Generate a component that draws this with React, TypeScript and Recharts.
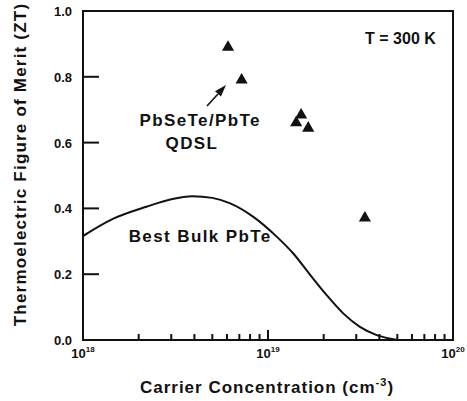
import React from 'react';
import {
  ComposedChart,
  Line,
  Scatter,
  XAxis,
  YAxis,
  ReferenceArea,
  ReferenceDot,
  ReferenceLine,
} from 'recharts';

const FONT = '"Liberation Sans", Arial, Helvetica, sans-serif';
const INK = '#111';

// Best bulk PbTe curve: carrier concentration (cm^-3) vs ZT
const bulkN = [1e18, 1.45e18, 2.2e18, 3.0e18, 3.9e18, 5.0e18, 6.2e18, 8.3e18, 1.11e19, 1.37e19, 1.69e19, 2.07e19, 2.55e19, 3.14e19, 3.87e19, 4.6e19, 5.0e19];
const bulkZT = [0.316, 0.368, 0.405, 0.428, 0.437, 0.432, 0.416, 0.375, 0.315, 0.263, 0.198, 0.137, 0.081, 0.04, 0.015, 0.004, 0.0];

// PbSeTe/PbTe QDSL samples
const qdslN = [6.08e18, 7.2e18, 1.42e19, 1.51e19, 1.65e19, 3.34e19];
const qdslZT = [0.89, 0.79, 0.66, 0.684, 0.644, 0.371];

const decades = [1e18, 1e19, 1e20];
const decadeExps = ['18', '19', '20'];
const minorTicks = [2e18, 3e18, 4e18, 5e18, 6e18, 7e18, 8e18, 9e18, 2e19, 3e19, 4e19, 5e19, 6e19, 7e19, 8e19, 9e19];
const yTicks = [0, 0.2, 0.4, 0.6, 0.8, 1.0];
const yInnerTicks = [0.2, 0.4, 0.6, 0.8];

const bulk = bulkN.map((n, i) => ({ n, zt: bulkZT[i] }));
const qdsl = qdslN.map((n, i) => ({ n, zt: qdslZT[i] }));

const notes = [
  { text: 'PbSeTe/PbTe', n: 4.3e18, zt: 0.668 },
  { text: 'QDSL', n: 3.88e18, zt: 0.598 },
  { text: 'Best Bulk PbTe', n: 4.3e18, zt: 0.316 },
];

const frame = { stroke: INK, strokeWidth: 2 };

const XTick = (props: any) => {
  const { x, y, payload } = props;
  const idx = decades.indexOf(payload.value);
  if (idx < 0) return <g />;
  return (
    <text x={x} y={y + 18} textAnchor="middle" fontFamily={FONT} fontSize={13} fontWeight="bold" fill={INK}>
      10
      <tspan dy={-6} fontSize={8}>{decadeExps[idx]}</tspan>
    </text>
  );
};

const YTick = (props: any) => {
  const { x, y, payload } = props;
  return (
    <text x={x - 11} y={y + 5} textAnchor="end" fontFamily={FONT} fontSize={13} fontWeight="bold" fill={INK}>
      {payload.value.toFixed(1)}
    </text>
  );
};

// inward tick marks, drawn from the axis end of each reference line
const MinorTick = (p: any) => {
  const base = Math.max(p.y1, p.y2);
  return <line x1={p.x1} x2={p.x1} y1={base} y2={base - 6} stroke={INK} strokeWidth={2} />;
};
const MajorTick = (p: any) => {
  const base = Math.max(p.y1, p.y2);
  return <line x1={p.x1} x2={p.x1} y1={base} y2={base - 10} stroke={INK} strokeWidth={2} />;
};
const LeftTick = (p: any) => {
  const base = Math.min(p.x1, p.x2);
  return <line x1={base} x2={base + 16} y1={p.y1} y2={p.y1} stroke={INK} strokeWidth={2} />;
};

const Arrow = (props: any) => {
  const { x1, y1, x2, y2 } = props;
  const dx = x2 - x1;
  const dy = y2 - y1;
  const len = Math.sqrt(dx * dx + dy * dy) || 1;
  const ux = dx / len;
  const uy = dy / len;
  const bx = x2 - ux * 12;
  const by = y2 - uy * 12;
  const w = 4;
  return (
    <g>
      <line x1={x1} y1={y1} x2={bx} y2={by} stroke={INK} strokeWidth={1.6} />
      <polygon
        points={`${x2},${y2} ${bx - uy * w},${by + ux * w} ${bx + uy * w},${by - ux * w}`}
        fill={INK}
      />
    </g>
  );
};

export default function App() {
  return (
    <div style={{ position: 'absolute', left: 0, top: 0 }}>
      <ComposedChart width={467} height={401} margin={{ top: 11, right: 14, bottom: 0, left: 0 }}>
        <XAxis
          dataKey="n"
          type="number"
          scale="log"
          domain={[1e18, 1e20]}
          allowDataOverflow
          ticks={decades}
          interval={0}
          tick={<XTick />}
          tickLine={false}
          tickSize={0}
          tickMargin={0}
          axisLine={frame}
          height={61}
          label={{
            content: (p: any) => {
              const vb = p.viewBox;
              return (
                <text x={vb.x + vb.width / 2 - 1} y={vb.y + 53} textAnchor="middle" fontFamily={FONT} fontSize={17} fontWeight="bold" letterSpacing={1} fill={INK}>
                  Carrier Concentration (cm
                  <tspan dy={-7} fontSize={11}>-3</tspan>
                  <tspan dy={7}>)</tspan>
                </text>
              );
            },
          }}
        />
        <YAxis
          dataKey="zt"
          type="number"
          domain={[0, 1]}
          ticks={yTicks}
          interval={0}
          tick={<YTick />}
          tickLine={false}
          tickSize={0}
          tickMargin={0}
          axisLine={frame}
          width={83}
          label={{
            content: (p: any) => {
              const vb = p.viewBox;
              const cx = vb.x + 20;
              const cy = vb.y + vb.height / 2 - 11;
              return (
                <text x={cx} y={cy} transform={`rotate(-90, ${cx}, ${cy})`} textAnchor="middle" dominantBaseline="central" fontFamily={FONT} fontSize={17} fontWeight="bold" letterSpacing={1.2} fill={INK}>
                  Thermoelectric Figure of Merit (ZT)
                </text>
              );
            },
          }}
        />
        <ReferenceArea x1={1e18} x2={1e20} y1={0} y2={1} fill="none" stroke={INK} strokeWidth={2} />
        {minorTicks.map((v) => (
          <ReferenceLine key={`mx${v}`} x={v} shape={<MinorTick />} />
        ))}
        <ReferenceLine x={1e19} shape={<MajorTick />} />
        {yInnerTicks.map((v) => (
          <ReferenceLine key={`my${v}`} y={v} shape={<LeftTick />} />
        ))}
        <Line
          data={bulk}
          dataKey="zt"
          type="monotone"
          stroke={INK}
          strokeWidth={2}
          dot={false}
          isAnimationActive={false}
        />
        <Scatter data={qdsl} dataKey="zt" shape="triangle" fill={INK} isAnimationActive={false} />
        <ReferenceLine
          segment={[
            { x: 4.68e18, y: 0.711 },
            { x: 5.93e18, y: 0.775 },
          ]}
          shape={<Arrow />}
        />
        <ReferenceDot
          x={5.2e19}
          y={0.918}
          r={0}
          stroke="none"
          fill="none"
          label={{ value: 'T = 300 K', position: 'center', fill: INK, fontSize: 16, fontWeight: 'bold', fontFamily: FONT }}
        />
        {notes.map((t) => (
          <ReferenceDot
            key={t.text}
            x={t.n}
            y={t.zt}
            r={0}
            stroke="none"
            fill="none"
            label={{
              value: t.text,
              position: 'center',
              fill: INK,
              fontSize: 17,
              fontWeight: 'bold',
              fontFamily: FONT,
              letterSpacing: 1.4,
            }}
          />
        ))}
      </ComposedChart>
    </div>
  );
}
